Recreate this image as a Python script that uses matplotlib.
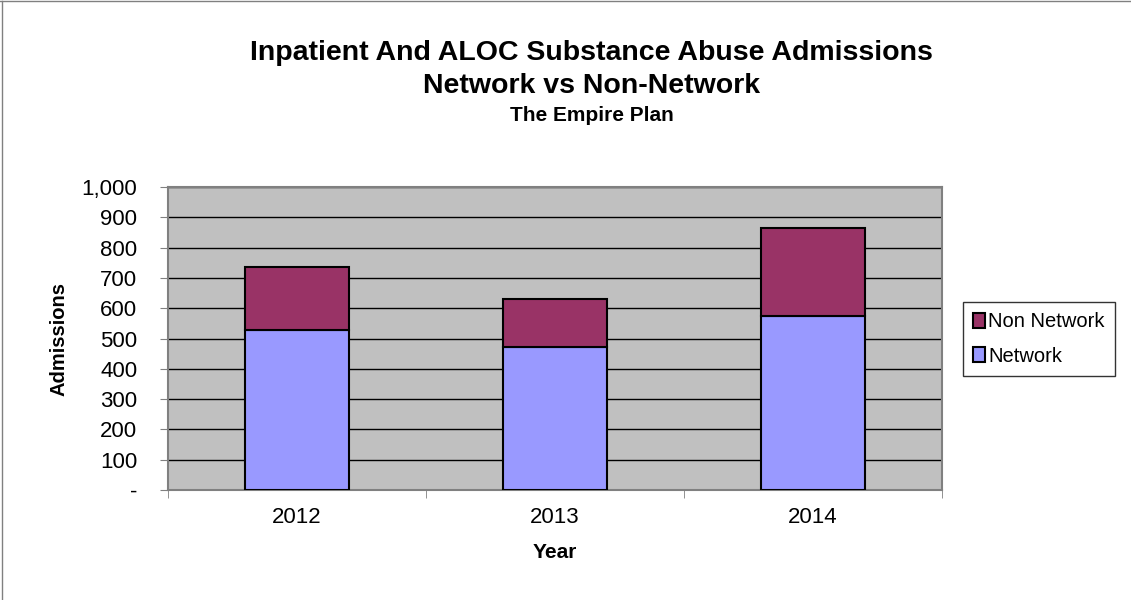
import numpy as np
import matplotlib.pyplot as plt
from matplotlib.ticker import FuncFormatter

plt.rcParams['font.family'] = ['Liberation Sans', 'DejaVu Sans']

# ----------------------------
# Data
# ----------------------------
years = ["2012", "2013", "2014"]
network = [528, 473, 574]
non_network = [207, 157, 292]

y_ticks = [0, 100, 200, 300, 400, 500, 600, 700, 800, 900, 1000]


def fmt_tick(v, pos):
    # Excel-style accounting format: zero shown as a dash
    if v == 0:
        return "-"
    return f"{int(v):,}"


def main():
    fig = plt.figure(figsize=(11.31, 6.0), dpi=100)
    ax = fig.add_axes([0.1485, 0.1833, 0.6845, 0.5050])

    x = np.arange(len(years))
    ax.bar(x, network, width=0.4, color="#9999FF", edgecolor="black",
           linewidth=1.5, label="Network", zorder=3)
    ax.bar(x, non_network, width=0.4, bottom=network, color="#993366",
           edgecolor="black", linewidth=1.5, label="Non Network", zorder=3)

    ax.set_facecolor("#C0C0C0")
    ax.set_xlim(-0.5, len(years) - 0.5)
    ax.set_ylim(0, 1000)
    ax.set_yticks(y_ticks)
    ax.yaxis.set_major_formatter(FuncFormatter(fmt_tick))
    ax.set_xticks(x)
    ax.set_xticklabels(years)
    ax.set_xticks(np.arange(len(years) + 1) - 0.5, minor=True)
    ax.tick_params(axis="x", which="major", length=0, labelsize=16, pad=12)
    ax.tick_params(axis="x", which="minor", length=6, color="#808080")
    ax.tick_params(axis="y", length=6, color="#808080", labelsize=16, pad=16)

    ax.grid(axis="y", color="black", linewidth=1.0, zorder=1)
    ax.set_axisbelow(True)
    for side in ["top", "right", "bottom", "left"]:
        ax.spines[side].set_color("#808080")
        ax.spines[side].set_linewidth(1.5)

    ax.set_ylabel("Admissions", fontsize=14.5, fontweight="bold")
    ax.set_xlabel("Year", fontsize=15, fontweight="bold")
    ax.yaxis.set_label_coords(-0.128, 0.5)
    ax.xaxis.set_label_coords(0.5, -0.175)

    fig.text(0.523, 0.912, "Inpatient And ALOC Substance Abuse Admissions",
             ha="center", va="center", fontsize=20.5, fontweight="bold")
    fig.text(0.523, 0.856, "Network vs Non-Network",
             ha="center", va="center", fontsize=20.5, fontweight="bold")
    fig.text(0.523, 0.808, "The Empire Plan",
             ha="center", va="center", fontsize=15, fontweight="bold")

    handles, labels = ax.get_legend_handles_labels()
    leg = fig.legend(handles[::-1], labels[::-1], loc="center left",
                     bbox_to_anchor=(0.8515, 0.435), borderaxespad=0,
                     frameon=True, fancybox=False,
                     fontsize=14.5, handlelength=0.6, handleheight=0.8,
                     handletextpad=0.15, labelspacing=0.75, borderpad=0.5)
    leg.get_frame().set_edgecolor("black")
    leg.get_frame().set_linewidth(1.0)

    # chart outer border (left and top edges visible)
    fig.add_artist(plt.Line2D([0.0015, 0.0015], [0, 0.998], color="#808080",
                              linewidth=1.0, transform=fig.transFigure))
    fig.add_artist(plt.Line2D([0, 1], [0.998, 0.998], color="#808080",
                              linewidth=1.0, transform=fig.transFigure))

    fig.savefig("out.png", dpi=100)


if __name__ == "__main__":
    main()
